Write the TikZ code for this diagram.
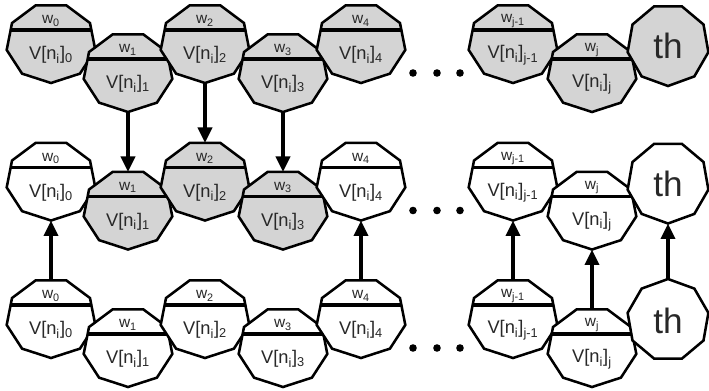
\documentclass[tikz,border=0pt]{standalone}
\usepackage{fontspec}
\setmainfont{Liberation Sans}
\usetikzlibrary{arrows.meta}

\definecolor{cellgray}{RGB}{212,212,212}
\definecolor{ink}{RGB}{40,40,40}

\tikzset{
  cell/.style={draw=black, line width=1.8pt, line join=miter},
  divider/.style={line width=2.2pt},
  flow/.style={line width=2.4pt, -{Triangle[length=11pt,width=10pt]}},
  wlabel/.style={font=\fontsize{11}{12}\selectfont, text=ink, inner sep=0pt},
  vlabel/.style={font=\fontsize{13}{14}\selectfont, text=ink, inner sep=0pt},
  thlabel/.style={font=\fontsize{25}{27}\selectfont, text=ink, inner sep=0pt},
  % nonagon split in weight (top) and value (bottom); #2 = 1 tip down, -1 tip up
  pics/wcell/.style n args={4}{code={
    \begin{scope}[xscale=45, yscale=40*#2]
      \filldraw[cell, fill=#1] (270:1) \foreach \a in {310,350,...,590} {-- (\a:1)} -- cycle;
      \coordinate (-top) at (0,{#2>0 ? 0.94 : -1});
      \coordinate (-bot) at (0,{#2>0 ? -1 : 0.94});
    \end{scope}
    \draw[divider] (-40.5,13) -- (40.5,13);
    \node[wlabel] (-w) at (0,22) {#3};
    \node[vlabel] (-v) at (0,-12) {#4};
  }},
  % threshold cell
  pics/thcell/.style n args={2}{code={
    \begin{scope}[xscale=41, yscale=41*#2]
      \filldraw[cell, fill=#1] (270:1) \foreach \a in {310,350,...,590} {-- (\a:1)} -- cycle;
      \coordinate (-top) at (0,{#2>0 ? 0.94 : -1});
      \coordinate (-bot) at (0,{#2>0 ? -1 : 0.94});
    \end{scope}
    \node[thlabel] (-t) at (0,-1) {th};
  }},
}

\begin{document}
\begin{tikzpicture}[x=0.025cm, y=0.025cm]
  \useasboundingbox (0,0) rectangle (709,390);

  % top row
  \pic (t0)  at (51,347)  {wcell={cellgray}{1}{w\textsubscript{0}}{V[n\textsubscript{i}]\textsubscript{0}}};
  \pic (t1)  at (128,318) {wcell={cellgray}{1}{w\textsubscript{1}}{V[n\textsubscript{i}]\textsubscript{1}}};
  \pic (t2)  at (205,347) {wcell={cellgray}{1}{w\textsubscript{2}}{V[n\textsubscript{i}]\textsubscript{2}}};
  \pic (t3)  at (283,318) {wcell={cellgray}{1}{w\textsubscript{3}}{V[n\textsubscript{i}]\textsubscript{3}}};
  \pic (t4)  at (361,347) {wcell={cellgray}{1}{w\textsubscript{4}}{V[n\textsubscript{i}]\textsubscript{4}}};
  \pic (tj1) at (513,347) {wcell={cellgray}{1}{w\textsubscript{j-1}}{V[n\textsubscript{i}]\textsubscript{j-1}}};
  \pic (tj)  at (592,318) {wcell={cellgray}{1}{w\textsubscript{j}}{V[n\textsubscript{i}]\textsubscript{j}}};
  \pic (tth) at (668,345) {thcell={cellgray}{1}};

  % middle row
  \pic (m0)  at (51,209.5)  {wcell={white}{1}{w\textsubscript{0}}{V[n\textsubscript{i}]\textsubscript{0}}};
  \pic (m1)  at (128,180.5) {wcell={cellgray}{1}{w\textsubscript{1}}{V[n\textsubscript{i}]\textsubscript{1}}};
  \pic (m2)  at (205,209.5) {wcell={cellgray}{1}{w\textsubscript{2}}{V[n\textsubscript{i}]\textsubscript{2}}};
  \pic (m3)  at (283,180.5) {wcell={cellgray}{1}{w\textsubscript{3}}{V[n\textsubscript{i}]\textsubscript{3}}};
  \pic (m4)  at (361,209.5) {wcell={white}{1}{w\textsubscript{4}}{V[n\textsubscript{i}]\textsubscript{4}}};
  \pic (mj1) at (513,209.5) {wcell={white}{1}{w\textsubscript{j-1}}{V[n\textsubscript{i}]\textsubscript{j-1}}};
  \pic (mj)  at (592,180.5) {wcell={white}{1}{w\textsubscript{j}}{V[n\textsubscript{i}]\textsubscript{j}}};
  \pic (mth) at (668,207.5) {thcell={white}{1}};

  % bottom row
  \pic (b0)  at (51,72)  {wcell={white}{1}{w\textsubscript{0}}{V[n\textsubscript{i}]\textsubscript{0}}};
  \pic (b1)  at (128,43) {wcell={white}{1}{w\textsubscript{1}}{V[n\textsubscript{i}]\textsubscript{1}}};
  \pic (b2)  at (205,72) {wcell={white}{1}{w\textsubscript{2}}{V[n\textsubscript{i}]\textsubscript{2}}};
  \pic (b3)  at (283,43) {wcell={white}{1}{w\textsubscript{3}}{V[n\textsubscript{i}]\textsubscript{3}}};
  \pic (b4)  at (361,72) {wcell={white}{1}{w\textsubscript{4}}{V[n\textsubscript{i}]\textsubscript{4}}};
  \pic (bj1) at (513,72) {wcell={white}{1}{w\textsubscript{j-1}}{V[n\textsubscript{i}]\textsubscript{j-1}}};
  \pic (bj)  at (592,43) {wcell={white}{1}{w\textsubscript{j}}{V[n\textsubscript{i}]\textsubscript{j}}};
  \pic (bth) at (668,70) {thcell={white}{-1}};

  % dots between the two groups
  \foreach \r in {0,1,2}
    \foreach \x in {413,437,460}
      \fill (\x,{317-137.5*\r}) circle (3.8);

  % copy down
  \draw[flow] (t1-bot) -- (m1-top);
  \draw[flow] (t2-bot) -- (m2-top);
  \draw[flow] (t3-bot) -- (m3-top);

  % copy up
  \draw[flow] (b0-top)  -- (m0-bot);
  \draw[flow] (b4-top)  -- (m4-bot);
  \draw[flow] (bj1-top) -- (mj1-bot);
  \draw[flow] (bj-top)  -- (mj-bot);
  \draw[flow] (bth-top) -- (mth-bot);
\end{tikzpicture}
\end{document}
